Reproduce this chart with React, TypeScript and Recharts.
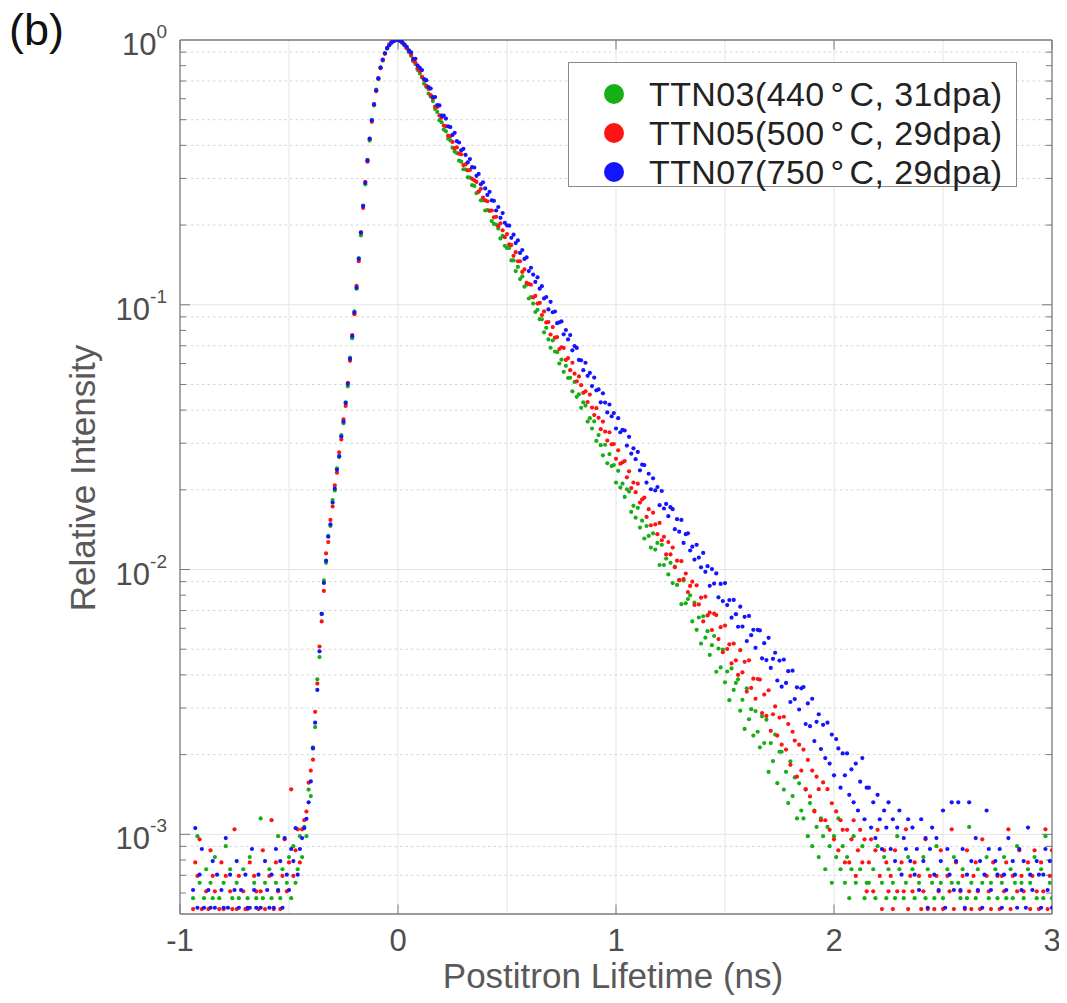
import React from 'react';
import { ScatterChart, Scatter, XAxis, YAxis, CartesianGrid, ReferenceLine } from 'recharts';

// ---------- data (relative intensity vs. positron lifetime, 0.01 ns channels) ----------
const lifetimeNs = [
  -0.94, -0.93, -0.92, -0.91, -0.9, -0.89, -0.88, -0.87, -0.86, -0.85,
  -0.84, -0.83, -0.82, -0.81, -0.8, -0.79, -0.78, -0.77, -0.76, -0.75,
  -0.74, -0.73, -0.72, -0.71, -0.7, -0.69, -0.68, -0.67, -0.66, -0.65,
  -0.64, -0.63, -0.62, -0.61, -0.6, -0.59, -0.58, -0.57, -0.56, -0.55,
  -0.54, -0.53, -0.52, -0.51, -0.5, -0.49, -0.48, -0.47, -0.46, -0.45,
  -0.44, -0.43, -0.42, -0.41, -0.4, -0.39, -0.38, -0.37, -0.36, -0.35,
  -0.34, -0.33, -0.32, -0.31, -0.3, -0.29, -0.28, -0.27, -0.26, -0.25,
  -0.24, -0.23, -0.22, -0.21, -0.2, -0.19, -0.18, -0.17, -0.16, -0.15,
  -0.14, -0.13, -0.12, -0.11, -0.1, -0.09, -0.08, -0.07, -0.06, -0.05,
  -0.04, -0.03, -0.02, -0.01, 0, 0.01, 0.02, 0.03, 0.04, 0.05,
  0.06, 0.07, 0.08, 0.09, 0.1, 0.11, 0.12, 0.13, 0.14, 0.15,
  0.16, 0.17, 0.18, 0.19, 0.2, 0.21, 0.22, 0.23, 0.24, 0.25,
  0.26, 0.27, 0.28, 0.29, 0.3, 0.31, 0.32, 0.33, 0.34, 0.35,
  0.36, 0.37, 0.38, 0.39, 0.4, 0.41, 0.42, 0.43, 0.44, 0.45,
  0.46, 0.47, 0.48, 0.49, 0.5, 0.51, 0.52, 0.53, 0.54, 0.55,
  0.56, 0.57, 0.58, 0.59, 0.6, 0.61, 0.62, 0.63, 0.64, 0.65,
  0.66, 0.67, 0.68, 0.69, 0.7, 0.71, 0.72, 0.73, 0.74, 0.75,
  0.76, 0.77, 0.78, 0.79, 0.8, 0.81, 0.82, 0.83, 0.84, 0.85,
  0.86, 0.87, 0.88, 0.89, 0.9, 0.91, 0.92, 0.93, 0.94, 0.95,
  0.96, 0.97, 0.98, 0.99, 1, 1.01, 1.02, 1.03, 1.04, 1.05,
  1.06, 1.07, 1.08, 1.09, 1.1, 1.11, 1.12, 1.13, 1.14, 1.15,
  1.16, 1.17, 1.18, 1.19, 1.2, 1.21, 1.22, 1.23, 1.24, 1.25,
  1.26, 1.27, 1.28, 1.29, 1.3, 1.31, 1.32, 1.33, 1.34, 1.35,
  1.36, 1.37, 1.38, 1.39, 1.4, 1.41, 1.42, 1.43, 1.44, 1.45,
  1.46, 1.47, 1.48, 1.49, 1.5, 1.51, 1.52, 1.53, 1.54, 1.55,
  1.56, 1.57, 1.58, 1.59, 1.6, 1.61, 1.62, 1.63, 1.64, 1.65,
  1.66, 1.67, 1.68, 1.69, 1.7, 1.71, 1.72, 1.73, 1.74, 1.75,
  1.76, 1.77, 1.78, 1.79, 1.8, 1.81, 1.82, 1.83, 1.84, 1.85,
  1.86, 1.87, 1.88, 1.89, 1.9, 1.91, 1.92, 1.93, 1.94, 1.95,
  1.96, 1.97, 1.98, 1.99, 2, 2.01, 2.02, 2.03, 2.04, 2.05,
  2.06, 2.07, 2.08, 2.09, 2.1, 2.11, 2.12, 2.13, 2.14, 2.15,
  2.16, 2.17, 2.18, 2.19, 2.2, 2.21, 2.22, 2.23, 2.24, 2.25,
  2.26, 2.27, 2.28, 2.29, 2.3, 2.31, 2.32, 2.33, 2.34, 2.35,
  2.36, 2.37, 2.38, 2.39, 2.4, 2.41, 2.42, 2.43, 2.44, 2.45,
  2.46, 2.47, 2.48, 2.49, 2.5, 2.51, 2.52, 2.53, 2.54, 2.55,
  2.56, 2.57, 2.58, 2.59, 2.6, 2.61, 2.62, 2.63, 2.64, 2.65,
  2.66, 2.67, 2.68, 2.69, 2.7, 2.71, 2.72, 2.73, 2.74, 2.75,
  2.76, 2.77, 2.78, 2.79, 2.8, 2.81, 2.82, 2.83, 2.84, 2.85,
  2.86, 2.87, 2.88, 2.89, 2.9, 2.91, 2.92, 2.93, 2.94, 2.95,
  2.96, 2.97, 2.98, 2.99, 3,
];

// TTN03 (440 °C, 31 dpa) – green
const ttn03 = [
  5.74e-4, 4.92e-4, 9.84e-4, 6.56e-4, 4.1e-4, 5.74e-4, 7.38e-4, 4.92e-4, 6.56e-4, 5.74e-4,
  8.2e-4, 4.92e-4, 5.74e-4, 4.1e-4, 6.56e-4, 9.02e-4, 4.92e-4, 7.38e-4, 5.74e-4, 4.92e-4,
  6.56e-4, 5.74e-4, 4.1e-4, 7.38e-4, 4.92e-4, 5.74e-4, 8.2e-4, 4.92e-4, 6.56e-4, 5.74e-4,
  4.92e-4, 1.148e-3, 5.74e-4, 6.56e-4, 4.92e-4, 7.38e-4, 5.74e-4, 4.1e-4, 6.56e-4, 9.84e-4,
  5.74e-4, 7.38e-4, 4.92e-4, 6.56e-4, 8.2e-4, 5.74e-4, 9.02e-4, 6.56e-4, 7.38e-4, 9.84e-4,
  8.2e-4, 1.066e-3, 9.84e-4, 1.476e-3, 1.394e-3, 2.13e-3, 2.54e-3, 3.85e-3, 4.67e-3, 6.8e-3,
  0.0091, 0.0106, 0.0134, 0.0146, 0.0183, 0.0199, 0.0241, 0.0266, 0.0322, 0.0357,
  0.0428, 0.0492, 0.0631, 0.0748, 0.0944, 0.115, 0.15, 0.183, 0.237, 0.285,
  0.353, 0.417, 0.499, 0.566, 0.649, 0.711, 0.789, 0.836, 0.893, 0.928,
  0.958, 0.979, 0.991, 0.998, 1, 0.989, 0.974, 0.953, 0.931, 0.899,
  0.872, 0.832, 0.811, 0.771, 0.748, 0.722, 0.684, 0.665, 0.628, 0.612,
  0.588, 0.549, 0.535, 0.498, 0.489, 0.459, 0.452, 0.424, 0.418, 0.392,
  0.379, 0.374, 0.35, 0.347, 0.325, 0.324, 0.303, 0.302, 0.283, 0.281,
  0.264, 0.268, 0.248, 0.248, 0.227, 0.228, 0.226, 0.207, 0.202, 0.201,
  0.194, 0.178, 0.182, 0.167, 0.164, 0.164, 0.147, 0.147, 0.134, 0.139,
  0.125, 0.128, 0.117, 0.119, 0.1056, 0.107, 0.101, 0.0939, 0.0957, 0.0882,
  0.0881, 0.0787, 0.0818, 0.074, 0.0688, 0.0733, 0.0666, 0.0662, 0.06, 0.0621,
  0.0558, 0.0588, 0.0529, 0.053, 0.0471, 0.0511, 0.0449, 0.0459, 0.0408, 0.0428,
  0.0416, 0.0362, 0.0373, 0.0341, 0.0363, 0.0306, 0.0322, 0.0295, 0.027, 0.0296,
  0.0252, 0.0273, 0.0246, 0.0248, 0.0213, 0.0236, 0.0204, 0.0211, 0.0188, 0.0201,
  0.0197, 0.0165, 0.0174, 0.0157, 0.0171, 0.0144, 0.0153, 0.0131, 0.0146, 0.0134,
  0.0121, 0.0137, 0.0119, 0.0126, 0.0104, 0.0124, 0.0104, 0.011, 0.00958, 0.0106,
  0.00889, 0.01026, 0.00875, 0.00915, 0.0074, 0.0091, 0.00746, 0.00774, 0.00799, 0.00637,
  0.0075, 0.00592, 0.00659, 0.00525, 0.00666, 0.00553, 0.00585, 0.00476, 0.00518, 0.00561,
  0.00411, 0.00503, 0.00427, 0.00498, 0.00375, 0.00412, 0.00321, 0.00423, 0.00351, 0.00373,
  0.00385, 0.00293, 0.00322, 0.0025, 0.00356, 0.00272, 0.00297, 0.00236, 0.00292, 0.00244,
  0.00213, 0.00279, 0.00221, 0.00271, 0.00172, 0.00221, 0.00189, 0.00238, 0.00156, 0.00205,
  0.00205, 0.001476, 0.001722, 0.001312, 0.001886, 0.001394, 0.00164, 0.001148, 0.001558, 0.00123,
  0.001148, 0.001476, 0.000984, 0.001312, 0.000902, 0.00123, 0.001066, 0.00082, 0.001148, 0.000984,
  0.000738, 0.001066, 0.000902, 0.000656, 0.000984, 0.00082, 0.001148, 0.000738, 0.000902, 0.000656,
  0.00082, 0.000574, 0.000738, 0.000984, 0.000656, 0.000492, 0.000738, 0.000902, 0.000574, 0.000656,
  6.56e-4, 4.92e-4, 7.38e-4, 5.74e-4, 9.02e-4, 4.1e-4, 6.56e-4, 8.2e-4, 5.74e-4, 7.38e-4,
  4.92e-4, 6.56e-4, 5.74e-4, 9.84e-4, 7.38e-4, 4.1e-4, 5.74e-4, 6.56e-4, 8.2e-4, 4.92e-4,
  7.38e-4, 5.74e-4, 4.1e-4, 6.56e-4, 4.92e-4, 8.2e-4, 5.74e-4, 7.38e-4, 3.28e-4, 6.56e-4,
  5.74e-4, 9.02e-4, 4.92e-4, 6.56e-4, 5.74e-4, 4.1e-4, 7.38e-4, 4.92e-4, 6.56e-4, 8.2e-4,
  4.1e-4, 6.56e-4, 5.74e-4, 7.38e-4, 4.92e-4, 5.74e-4, 1.066e-3, 6.56e-4, 4.92e-4, 5.74e-4,
  7.38e-4, 4.92e-4, 6.56e-4, 4.1e-4, 8.2e-4, 5.74e-4, 6.56e-4, 4.92e-4, 7.38e-4, 5.74e-4,
  4.92e-4, 6.56e-4, 8.2e-4, 5.74e-4, 4.1e-4, 7.38e-4, 5.74e-4, 6.56e-4, 9.02e-4, 4.92e-4,
  6.56e-4, 5.74e-4, 4.92e-4, 7.38e-4, 6.56e-4, 4.1e-4, 8.2e-4, 5.74e-4, 4.92e-4, 7.38e-4,
  5.74e-4, 9.84e-4, 4.92e-4, 6.56e-4, 5.74e-4,
];

// TTN05 (500 °C, 29 dpa) – red
const ttn05 = [
  5.22e-4, 7.83e-4, 6.96e-4, 9.57e-4, 5.22e-4, 4.35e-4, 6.09e-4, 5.22e-4, 8.7e-4, 6.96e-4,
  6.09e-4, 4.35e-4, 5.22e-4, 7.83e-4, 5.22e-4, 6.96e-4, 4.35e-4, 6.09e-4, 5.22e-4, 1.044e-3,
  5.22e-4, 6.96e-4, 4.35e-4, 6.09e-4, 5.22e-4, 5.22e-4, 7.83e-4, 4.35e-4, 6.96e-4, 6.09e-4,
  5.22e-4, 6.09e-4, 8.7e-4, 5.22e-4, 4.35e-4, 6.96e-4, 1.131e-3, 5.22e-4, 7.83e-4, 6.09e-4,
  5.22e-4, 6.96e-4, 9.57e-4, 6.09e-4, 7.83e-4, 1.479e-3, 6.96e-4, 8.7e-4, 1.044e-3, 7.83e-4,
  1.044e-3, 1.131e-3, 1.218e-3, 1.566e-3, 1.74e-3, 1.914e-3, 2.9e-3, 3.71e-3, 5.12e-3, 6.37e-3,
  0.0083, 0.0115, 0.0127, 0.0154, 0.0173, 0.0208, 0.0232, 0.0277, 0.031, 0.0369,
  0.0415, 0.0507, 0.0614, 0.0768, 0.0921, 0.118, 0.146, 0.188, 0.232, 0.291,
  0.347, 0.423, 0.491, 0.573, 0.641, 0.718, 0.782, 0.843, 0.887, 0.932,
  0.962, 0.981, 0.993, 0.999, 1, 0.992, 0.976, 0.958, 0.931, 0.91,
  0.879, 0.839, 0.82, 0.782, 0.763, 0.726, 0.707, 0.671, 0.653, 0.619,
  0.603, 0.56, 0.558, 0.519, 0.509, 0.475, 0.472, 0.435, 0.433, 0.412,
  0.39, 0.393, 0.372, 0.37, 0.337, 0.339, 0.322, 0.323, 0.299, 0.295,
  0.291, 0.267, 0.274, 0.254, 0.248, 0.246, 0.227, 0.227, 0.214, 0.215,
  0.198, 0.203, 0.191, 0.18, 0.185, 0.169, 0.168, 0.153, 0.158, 0.146,
  0.146, 0.133, 0.136, 0.121, 0.12, 0.119, 0.1066, 0.108, 0.101, 0.1016,
  0.0914, 0.0944, 0.0858, 0.086, 0.0772, 0.0824, 0.0751, 0.0755, 0.068, 0.0691,
  0.0687, 0.0619, 0.0629, 0.0566, 0.0604, 0.0549, 0.0514, 0.0536, 0.0497, 0.0465,
  0.0471, 0.0429, 0.0458, 0.0409, 0.0383, 0.0407, 0.0374, 0.0339, 0.0362, 0.0332,
  0.0307, 0.033, 0.0297, 0.0298, 0.0262, 0.0282, 0.0251, 0.0254, 0.0257, 0.0223,
  0.0235, 0.0203, 0.0213, 0.0196, 0.0211, 0.0179, 0.0184, 0.0187, 0.0158, 0.0169,
  0.0147, 0.0164, 0.0148, 0.0136, 0.015, 0.0129, 0.0133, 0.0114, 0.0127, 0.0114,
  0.0121, 0.0102, 0.0108, 0.0091, 0.01075, 0.0092, 0.00966, 0.00822, 0.00867, 0.009,
  0.00735, 0.00872, 0.00738, 0.00783, 0.00637, 0.0079, 0.00671, 0.00687, 0.00591, 0.00681,
  0.00673, 0.00546, 0.00606, 0.00487, 0.00614, 0.00501, 0.00522, 0.00442, 0.00525, 0.00454,
  0.004, 0.00496, 0.00409, 0.00448, 0.00346, 0.00454, 0.00357, 0.00387, 0.00325, 0.00386,
  0.00384, 0.00287, 0.00337, 0.0028, 0.0035, 0.00246, 0.00284, 0.00304, 0.00236, 0.00276,
  0.00218, 0.00278, 0.00209, 0.00261, 0.00183, 0.00244, 0.00226, 0.00165, 0.00218, 0.00174,
  0.00209, 0.00148, 0.00191, 0.00139, 0.00174, 0.00122, 0.00165, 0.00148, 0.00113, 0.00157,
  0.00113, 0.00148, 0.00104, 0.00131, 0.000957, 0.00122, 0.00087, 0.00113, 0.00104, 0.000783,
  0.00104, 0.000783, 0.000957, 0.00113, 0.000696, 0.00087, 0.00104, 0.000783, 0.000957, 0.000609,
  0.000783, 0.000957, 0.000609, 0.00087, 0.00104, 0.000696, 0.000522, 0.00087, 0.000783, 0.000609,
  6.96e-4, 5.22e-4, 8.7e-4, 6.09e-4, 4.35e-4, 7.83e-4, 6.09e-4, 1.044e-3, 5.22e-4, 6.96e-4,
  6.09e-4, 7.83e-4, 4.35e-4, 6.96e-4, 5.22e-4, 6.09e-4, 9.57e-4, 5.22e-4, 6.96e-4, 3.48e-4,
  5.22e-4, 6.96e-4, 6.09e-4, 8.7e-4, 5.22e-4, 4.35e-4, 6.96e-4, 6.09e-4, 1.044e-3, 5.22e-4,
  7.83e-4, 4.35e-4, 6.09e-4, 6.96e-4, 5.22e-4, 8.7e-4, 6.09e-4, 5.22e-4, 6.96e-4, 7.83e-4,
  6.09e-4, 5.22e-4, 9.57e-4, 4.35e-4, 6.96e-4, 6.09e-4, 5.22e-4, 7.83e-4, 4.35e-4, 6.96e-4,
  5.22e-4, 6.96e-4, 6.09e-4, 7.83e-4, 1.044e-3, 5.22e-4, 6.96e-4, 4.35e-4, 6.09e-4, 8.7e-4,
  6.96e-4, 6.09e-4, 4.35e-4, 7.83e-4, 5.22e-4, 6.96e-4, 8.7e-4, 6.09e-4, 5.22e-4, 7.83e-4,
  6.09e-4, 1.044e-3, 5.22e-4, 6.96e-4, 8.7e-4,
];

// TTN07 (750 °C, 29 dpa) – blue
const ttn07 = [
  6.16e-4, 1.056e-3, 5.28e-4, 7.04e-4, 8.8e-4, 5.28e-4, 4.4e-4, 6.16e-4, 5.28e-4, 7.92e-4,
  5.28e-4, 7.04e-4, 4.4e-4, 6.16e-4, 5.28e-4, 9.68e-4, 5.28e-4, 7.04e-4, 4.4e-4, 6.16e-4,
  7.92e-4, 5.28e-4, 6.16e-4, 4.4e-4, 7.04e-4, 5.28e-4, 5.28e-4, 8.8e-4, 6.16e-4, 5.28e-4,
  7.04e-4, 5.28e-4, 4.4e-4, 7.92e-4, 6.16e-4, 5.28e-4, 7.04e-4, 5.28e-4, 8.8e-4, 6.16e-4,
  7.92e-4, 5.28e-4, 9.68e-4, 7.04e-4, 6.16e-4, 8.8e-4, 7.92e-4, 1.056e-3, 7.04e-4, 8.8e-4,
  9.68e-4, 1.056e-3, 1.144e-3, 1.32e-3, 1.584e-3, 2.11e-3, 2.64e-3, 3.51e-3, 4.91e-3, 6.8e-3,
  0.0089, 0.0108, 0.0133, 0.0148, 0.0179, 0.0202, 0.0238, 0.0268, 0.0318, 0.0362,
  0.0426, 0.0503, 0.0625, 0.0761, 0.0935, 0.116, 0.149, 0.187, 0.236, 0.289,
  0.351, 0.424, 0.497, 0.571, 0.646, 0.716, 0.787, 0.842, 0.891, 0.931,
  0.955, 0.977, 0.99, 0.998, 1, 0.994, 0.981, 0.96, 0.943, 0.913,
  0.898, 0.848, 0.849, 0.801, 0.785, 0.77, 0.711, 0.705, 0.664, 0.656,
  0.609, 0.609, 0.568, 0.566, 0.518, 0.518, 0.505, 0.472, 0.469, 0.438,
  0.446, 0.415, 0.41, 0.383, 0.388, 0.368, 0.345, 0.355, 0.331, 0.33,
  0.307, 0.312, 0.285, 0.29, 0.275, 0.26, 0.267, 0.248, 0.247, 0.227,
  0.234, 0.213, 0.222, 0.204, 0.1995, 0.199, 0.179, 0.184, 0.171, 0.175,
  0.157, 0.161, 0.149, 0.151, 0.134, 0.138, 0.13, 0.122, 0.127, 0.115,
  0.1175, 0.1057, 0.107, 0.096, 0.1026, 0.0937, 0.0943, 0.0852, 0.0859, 0.0865,
  0.0773, 0.0803, 0.074, 0.0768, 0.0673, 0.0698, 0.0687, 0.0619, 0.0617, 0.0566,
  0.0604, 0.0539, 0.0553, 0.0493, 0.0531, 0.0475, 0.0479, 0.0428, 0.0463, 0.0427,
  0.0392, 0.042, 0.0379, 0.039, 0.0341, 0.0373, 0.033, 0.0337, 0.0335, 0.0294,
  0.0317, 0.0274, 0.0287, 0.0261, 0.0278, 0.0237, 0.0249, 0.0248, 0.0213, 0.023,
  0.0201, 0.0221, 0.0199, 0.0205, 0.0175, 0.0198, 0.017, 0.0177, 0.0159, 0.0172,
  0.0169, 0.0142, 0.0155, 0.0139, 0.0154, 0.0126, 0.0136, 0.0137, 0.0118, 0.0122,
  0.0109, 0.0124, 0.0111, 0.0102, 0.01155, 0.0098, 0.0103, 0.00868, 0.01004, 0.00885,
  0.00967, 0.00785, 0.00882, 0.0076, 0.00889, 0.00734, 0.00767, 0.00658, 0.00768, 0.00678,
  0.00608, 0.00724, 0.00609, 0.00663, 0.00537, 0.00668, 0.00565, 0.00592, 0.00506, 0.00592,
  0.00589, 0.00462, 0.00527, 0.00455, 0.00552, 0.00425, 0.0046, 0.00485, 0.00381, 0.00453,
  0.00361, 0.00457, 0.00373, 0.00413, 0.00316, 0.00415, 0.00324, 0.00359, 0.00296, 0.00356,
  0.0036, 0.00261, 0.00312, 0.00256, 0.00325, 0.00225, 0.00266, 0.00284, 0.0021, 0.00259,
  0.00194, 0.00264, 0.00185, 0.00238, 0.00167, 0.00229, 0.00211, 0.0015, 0.00202, 0.00167,
  0.00202, 0.00141, 0.00176, 0.00132, 0.00185, 0.00123, 0.00158, 0.00194, 0.00114, 0.0015,
  0.0015, 0.00106, 0.00132, 0.000968, 0.00141, 0.00114, 0.00088, 0.00123, 0.00106, 0.00132,
  0.00088, 0.00114, 0.000792, 0.00106, 0.00123, 0.000704, 0.000968, 0.00088, 0.00114, 0.000792,
  0.00106, 0.000704, 0.00088, 0.000616, 0.00114, 0.000792, 0.000968, 0.000528, 0.00088, 0.00106,
  0.000704, 0.000968, 0.000616, 0.000792, 0.00123, 0.000528, 0.00088, 0.000704, 0.00132, 0.000616,
  0.000792, 0.00132, 0.000616, 0.00088, 0.000528, 0.000704, 0.00132, 0.000792, 0.00044, 0.000968,
  0.000616, 0.000792, 0.000528, 0.000704, 0.00123, 0.00088, 0.000616, 0.00044, 0.000792, 0.000704,
  0.00088, 0.000528, 0.000704, 0.000616, 0.000968, 0.00044, 0.000792, 0.000704, 0.000528, 0.00088,
  0.000616, 0.000792, 0.000528, 0.00106, 0.000704, 0.000616, 0.00044, 0.000792, 0.000704, 0.000528,
  0.000704, 0.00088, 0.000616, 0.000792, 0.000528,
];

const seriesIds = ['TTN03', 'TTN05', 'TTN07'];
const seriesTemps = ['440', '500', '750'];
const seriesDoses = ['31dpa', '29dpa', '29dpa'];
const seriesColors = ['#16b016', '#ff1414', '#1414ff'];

const xTicks = [-1, 0, 1, 2, 3];
const xGridValues = [-0.5, 0, 0.5, 1, 1.5, 2, 2.5];
const yTicks = [0.001, 0.01, 0.1, 1];
const yTickExponents = ['-3', '-2', '-1', '0'];
const yMajorGrid = [0.001, 0.01, 0.1];
const yMinorValues = [
  0.0006, 0.0007, 0.0008, 0.0009,
  0.002, 0.003, 0.004, 0.005, 0.006, 0.007, 0.008, 0.009,
  0.02, 0.03, 0.04, 0.05, 0.06, 0.07, 0.08, 0.09,
  0.2, 0.3, 0.4, 0.5, 0.6, 0.7, 0.8, 0.9,
];

const X_DOMAIN: [number, number] = [-1, 3];
const Y_DOMAIN: [number, number] = [0.0005, 1];

// ---------- layout ----------
const W = 1059;
const H = 995;
const FONT = '"Liberation Sans", Arial, Helvetica, sans-serif';
const AXIS_COLOR = '#7a7a7a';
const TEXT_GRAY = '#4d4d4d';

const toPoints = (vals: number[]) =>
  lifetimeNs
    .map((t, i) => ({ t, v: vals[i] }))
    .filter((p) => p.v >= Y_DOMAIN[0] && p.v <= Y_DOMAIN[1]);

const seriesData = [toPoints(ttn03), toPoints(ttn05), toPoints(ttn07)];

const makeDot = (color: string) => (props: any) => {
  if (props.cx == null || props.cy == null) return <g />;
  return <circle cx={props.cx} cy={props.cy} r={2.1} fill={color} />;
};

const XTick = (props: any) => {
  const { x, y, payload } = props;
  return (
    <text x={x} y={y + 37} textAnchor="middle" fontSize={31} fontFamily={FONT} fill={TEXT_GRAY}>
      {String(payload.value)}
    </text>
  );
};

const YTick = (props: any) => {
  const { x, y, payload } = props;
  const idx = yTicks.indexOf(payload.value);
  const exp = idx >= 0 ? yTickExponents[idx] : '';
  return (
    <text x={x - 13} y={y + 15} textAnchor="end" fontFamily={FONT} fill={TEXT_GRAY} fontSize={31}>
      <tspan>10</tspan>
      <tspan dy={-17} fontSize={19}>{exp}</tspan>
    </text>
  );
};

const tickLen = (px: number) => (px / 872) * 4; // x-units for a given pixel length

export default function App() {
  const minorTicks = yMinorValues.flatMap((v, i) => [
    <ReferenceLine key={`lm${i}`} segment={[{ x: -1, y: v }, { x: -1 + tickLen(6), y: v }]} stroke={AXIS_COLOR} strokeWidth={1} />,
    <ReferenceLine key={`rm${i}`} segment={[{ x: 3 - tickLen(6), y: v }, { x: 3, y: v }]} stroke={AXIS_COLOR} strokeWidth={1} />,
  ]);
  const majorTicks = yMajorGrid.flatMap((v, i) => [
    <ReferenceLine key={`lM${i}`} segment={[{ x: -1, y: v }, { x: -1 + tickLen(10), y: v }]} stroke={AXIS_COLOR} strokeWidth={1} />,
    <ReferenceLine key={`rM${i}`} segment={[{ x: 3 - tickLen(10), y: v }, { x: 3, y: v }]} stroke={AXIS_COLOR} strokeWidth={1} />,
  ]);
  const xTickMarks = xTicks.flatMap((v, i) => [
    <ReferenceLine key={`bx${i}`} segment={[{ x: v, y: 0.0005 }, { x: v, y: 0.000543 }]} stroke={AXIS_COLOR} strokeWidth={1} />,
    <ReferenceLine key={`tx${i}`} segment={[{ x: v, y: 1 }, { x: v, y: 0.92 }]} stroke={AXIS_COLOR} strokeWidth={1} />,
  ]);

  return (
    <div style={{ position: 'relative', width: W, height: H, fontFamily: FONT, background: '#fff' }}>
      <ScatterChart width={W} height={H} margin={{ top: 32, right: 15, bottom: 0, left: 0 }}>
        <CartesianGrid
          horizontal
          vertical={false}
          horizontalValues={yMinorValues}
          stroke="#d4d4d4"
          strokeDasharray="2.5 3"
        />
        <CartesianGrid
          horizontalValues={yMajorGrid}
          verticalValues={xGridValues}
          stroke="#e4e4e4"
        />
        <XAxis
          type="number"
          dataKey="t"
          domain={X_DOMAIN}
          ticks={xTicks}
          allowDataOverflow
          height={89}
          tickSize={0}
          tickMargin={0}
          tickLine={false}
          axisLine={{ stroke: AXIS_COLOR, strokeWidth: 1.3 }}
          tick={XTick}
        />
        <YAxis
          type="number"
          dataKey="v"
          scale="log"
          domain={Y_DOMAIN}
          ticks={yTicks}
          allowDataOverflow
          width={172}
          tickSize={0}
          tickMargin={0}
          tickLine={false}
          axisLine={{ stroke: AXIS_COLOR, strokeWidth: 1.3 }}
          tick={YTick}
        />
        <ReferenceLine y={1} stroke={AXIS_COLOR} strokeWidth={1.3} />
        <ReferenceLine x={3} stroke={AXIS_COLOR} strokeWidth={1.3} />
        {minorTicks}
        {majorTicks}
        {xTickMarks}
        {seriesData.map((d, i) => (
          <Scatter
            key={seriesIds[i]}
            name={seriesIds[i]}
            data={d}
            fill={seriesColors[i]}
            shape={makeDot(seriesColors[i])}
            isAnimationActive={false}
          />
        ))}
      </ScatterChart>

      {/* panel label */}
      <div style={{ position: 'absolute', left: 1, top: -1, fontSize: 45, lineHeight: '45px', color: '#111' }}>(b)</div>

      {/* y axis title */}
      <div
        style={{
          position: 'absolute',
          left: 75 - 200,
          top: 470 - 20,
          width: 400,
          height: 40,
          lineHeight: '40px',
          fontSize: 35,
          textAlign: 'center',
          color: '#595959',
          transform: 'rotate(-90deg)',
          whiteSpace: 'nowrap',
        }}
      >
        Relative Intensity
      </div>

      {/* x axis title */}
      <div
        style={{
          position: 'absolute',
          left: 305,
          top: 948,
          width: 600,
          height: 40,
          lineHeight: '40px',
          fontSize: 35,
          textAlign: 'center',
          color: '#595959',
          whiteSpace: 'nowrap',
        }}
      >
        Postitron Lifetime (ns)
      </div>

      {/* legend */}
      <div
        style={{
          position: 'absolute',
          left: 560,
          top: 54,
          width: 449,
          height: 125,
          boxSizing: 'border-box',
          border: '1.5px solid #8a8a8a',
          background: '#fff',
        }}
      >
        {seriesIds.map((id, i) => (
          <div key={id} style={{ position: 'absolute', left: 0, top: 31 + i * 38.8 - 20, height: 40, width: '100%' }}>
            <div
              style={{
                position: 'absolute',
                left: 45 - 10,
                top: 10,
                width: 20,
                height: 20,
                borderRadius: 10,
                background: seriesColors[i],
              }}
            />
            <div
              style={{
                position: 'absolute',
                left: 80,
                top: 0,
                lineHeight: '40px',
                fontSize: 34,
                letterSpacing: 0.4,
                color: '#222',
                whiteSpace: 'nowrap',
              }}
            >
              {id}({seriesTemps[i]}
              <span style={{ margin: '0 5px 0 6px' }}>°</span>C, {seriesDoses[i]})
            </div>
          </div>
        ))}
      </div>
    </div>
  );
}
